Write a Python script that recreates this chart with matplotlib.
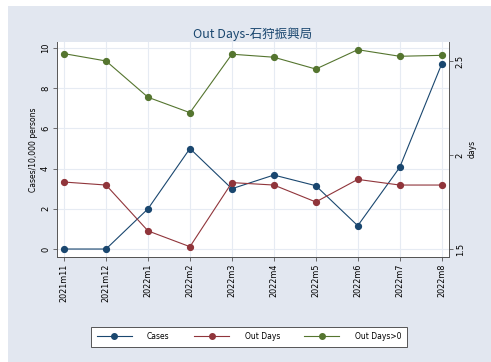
import numpy as np
import matplotlib.pyplot as plt
from matplotlib.patches import Rectangle
from matplotlib.lines import Line2D

plt.rcParams['font.family'] = ['DejaVu Sans', 'Noto Sans CJK JP']

months = ["2021m11", "2021m12", "2022m1", "2022m2", "2022m3",
          "2022m4", "2022m5", "2022m6", "2022m7", "2022m8"]
cases = [0.0, 0.0, 2.0, 5.0, 3.0, 3.68, 3.15, 1.16, 4.06, 9.2]
out_days = [1.856, 1.84, 1.596, 1.512, 1.853, 1.84, 1.75, 1.87, 1.84, 1.84]
out_days_pos = [2.539, 2.50, 2.307, 2.225, 2.536, 2.52, 2.457, 2.56, 2.525, 2.53]

navy = "#1a476f"
maroon = "#90353b"
green = "#55752f"
bg = "#e2e7f0"
grid_c = "#e6ebf3"

fig = plt.figure(figsize=(4.91, 3.62), dpi=100, facecolor="white")
fig.add_artist(Rectangle((8 / 491, 0), 1, 1 - 6 / 362, transform=fig.transFigure,
                         facecolor=bg, edgecolor="none", zorder=-10))

ax = fig.add_axes([0.116, 0.291, 0.798, 0.593])
ax2 = ax.twinx()
x = np.arange(len(months))

ax.plot(x, cases, color=navy, lw=0.8, marker="o", ms=4.2, zorder=3)
ax2.plot(x, out_days, color=maroon, lw=0.8, marker="o", ms=4.2)
ax2.plot(x, out_days_pos, color=green, lw=0.8, marker="o", ms=4.2)

ax.set_xlim(-0.17, 9.17)
ax.set_ylim(-0.38, 10.3)
ax2.set_ylim(1.459, 2.601)

ax.set_xticks(x)
ax.set_xticklabels(months, rotation=90, fontsize=5.8)
ax.set_yticks([0, 2, 4, 6, 8, 10])
ax.set_yticklabels(["0", "2", "4", "6", "8", "10"], rotation=90, va="center", fontsize=6)
ax2.set_yticks([1.5, 2, 2.5])
ax2.set_yticklabels(["1.5", "2", "2.5"], rotation=90, va="center", fontsize=6)
ax.set_ylabel("Cases/10,000 persons", fontsize=5.5, labelpad=2)
ax2.set_ylabel("days", fontsize=5.5, rotation=90, labelpad=2)

ax.grid(True, color=grid_c, lw=0.8)
ax.set_axisbelow(True)
ax.set_facecolor("white")
for a in (ax, ax2):
    a.tick_params(length=3, width=0.6, color="#555555", pad=2)
    a.spines["top"].set_visible(False)
    for s in a.spines.values():
        s.set_linewidth(0.7)
        s.set_color("#555555")
ax.spines["right"].set_visible(False)
ax2.spines["left"].set_visible(False)

ax.set_title("Out Days-石狩振興局", fontsize=9, color=navy, pad=3,
             family=['Noto Sans CJK JP', 'DejaVu Sans'])

handles = [Line2D([], [], color=c, lw=0.8, marker="o", ms=4) for c in (navy, maroon, green)]
leg = fig.legend(handles, ["Cases", "Out Days", "Out Days>0"], loc="center",
                 bbox_to_anchor=(0.507, 0.070), ncol=3, fontsize=5.5, frameon=True,
                 fancybox=False, edgecolor="#555555", facecolor="white", framealpha=1,
                 handlelength=4.6, columnspacing=3.2, handletextpad=2.0, borderpad=0.7)
leg.get_frame().set_linewidth(0.7)

fig.savefig("out.png", dpi=100, facecolor=fig.get_facecolor())
